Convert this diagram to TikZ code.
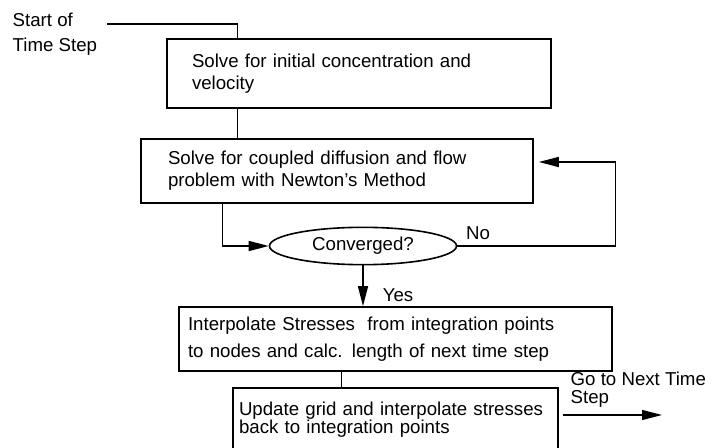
\documentclass[tikz,border=0pt]{standalone}
\usepackage{fontspec}
\setmainfont{Liberation Sans}
\usetikzlibrary{arrows.meta, positioning, shapes.geometric, calc}

\tikzset{
    every node/.style={font=\fontsize{14}{16.5}\selectfont},
    stepbox/.style={draw, line width=1.2pt, rectangle, align=left},
    decision/.style={draw, line width=1.2pt, ellipse, inner sep=0pt,
        minimum width=140.25pt, minimum height=28pt},
    flow/.style={line width=1pt},
    >={Triangle[length=15pt,width=7.5pt]}
}

\begin{document}
\begin{tikzpicture}[x=0.75pt, y=-0.75pt]
        \useasboundingbox (0,0) rectangle (723,448);

        \node[stepbox, text width=250.5pt, inner xsep=18.75pt, minimum height=51.75pt]
            (init) at (359,73.5) {Solve for initial concentration and\\velocity};
        \node[stepbox, text width=253.5pt, inner xsep=20.25pt, minimum height=48pt]
            (newton) at (337,171) {Solve for coupled diffusion and flow\\problem with Newton's Method};
        \node[decision] (conv) at (363,246) {Converged?};
        \node[stepbox, text width=311.25pt, inner xsep=6.75pt, minimum height=48pt,
            font=\fontsize{14}{20}\selectfont]
            (interp) at (395.5,339) {Interpolate Stresses\ \ from integration points\\to nodes and calc. length of next time step};
        \node[stepbox, text width=234.75pt, inner xsep=4.5pt, minimum height=48pt,
            font=\fontsize{14}{13.5}\selectfont]
            (update) at (395.5,420) {Update grid and interpolate stresses\\back to integration points};

        \node[anchor=north west, align=left, font=\fontsize{14}{19}\selectfont]
            (start) at (8,8) {Start of\\Time Step};
        \node (no) at (478,233) {No};
        \node (yes) at (398,295) {Yes};
        \node[anchor=north west, align=left, font=\fontsize{14}{14}\selectfont]
            (next) at (566,367) {Go to Next Time\\Step};

        \coordinate (startpt) at (107,24);
        \coordinate (gostart) at (563,415);
        \coordinate (goend) at (662,415);

        \draw[flow] (startpt) -| ($(init.north west)+(71,0)$);
        \draw[flow] ($(init.south west)+(71,0)$) -- ($(newton.north west)+(97,0)$);
        \draw[flow, ->] ($(newton.south west)+(82,0)$) |- (conv.west);
        \draw[flow, ->] (conv.east) -- ++(158,0) |- ($(newton.east)+(5,-9)$);
        \draw[flow, ->] (conv.south) -- (conv.south |- interp.north);
        \draw[flow] ($(interp.south west)+(163,0)$) -- ($(update.north west)+(109,0)$);
        \draw[flow, ->] (gostart) -- (goend);
\end{tikzpicture}
\end{document}
